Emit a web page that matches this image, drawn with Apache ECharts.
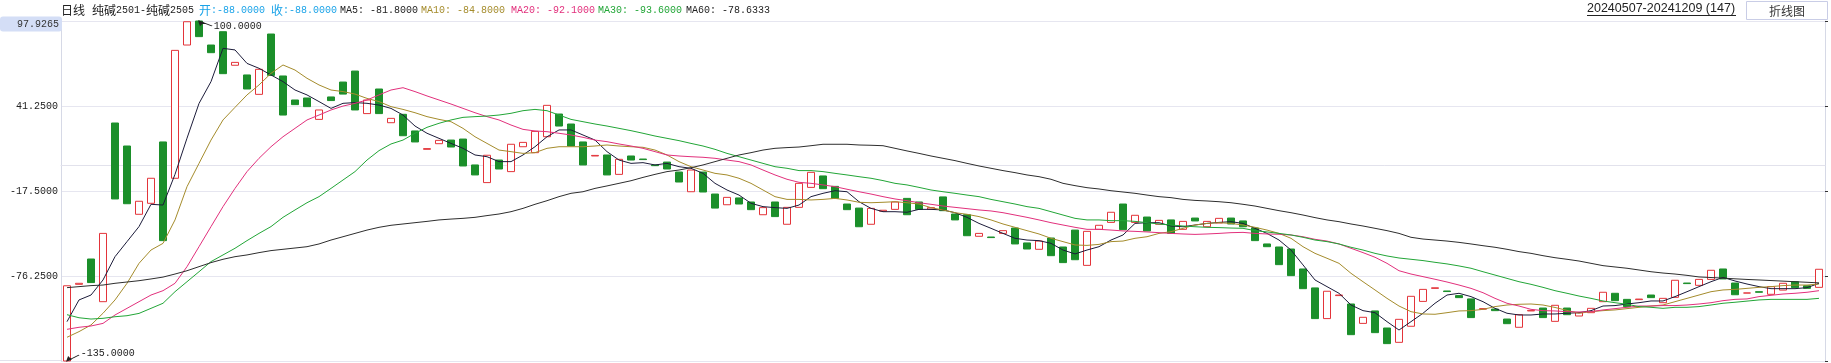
<!DOCTYPE html>
<html>
<head>
<meta charset="utf-8">
<script src="https://cdn.jsdelivr.net/npm/echarts@6/dist/echarts.min.js"></script>
<style>
html,body{margin:0;padding:0;background:#fff;}
#chart{width:1831px;height:363px;}
</style>
</head>
<body>
<div id="chart"></div>
<script>
// trading days (categories)
const days202405 = [7,8,9,10,13,14,15,16,17,20,21,22,23,24,27,28,29,30,31];
const days202406 = [3,4,5,6,7,11,12,13,14,17,18,19,20,21,24,25,26,27,28];
const days202407 = [1,2,3,4,5,8,9,10,11,12,15,16,17,18,19,22,23,24,25,26,29,30,31];
const days202408 = [1,2,5,6,7,8,9,12,13,14,15,16,19,20,21,22,23,26,27,28,29,30];
const days202409 = [2,3,4,5,6,9,10,11,12,13,18,19,20,23,24,25,26,27,30];
const days202410 = [8,9,10,11,14,15,16,17,18,21,22,23,24,25,28,29,30,31];
const days202411 = [1,4,5,6,7,8,11,12,13,14,15,18,19,20,21,22,25,26,27,28,29];
const days202412 = [2,3,4,5,6,9];

const openVals = [
-135,-82.0,-64.5,-94.0,29.5,13.6,-33.6,-26.0,16.4,-8.7,
83.4,100,83.4,92.6,69.4,62.7,49.3,91.0,62.0,45.4,
46.8,32.0,47.5,57.8,65.4,36.0,53.0,29.7,35.5,24.0,
11.3,15.2,17.7,18.4,0.5,-11.7,3.9,-4.1,13.1,9.0,
20.0,35.7,28.8,16.4,6.7,7.4,-6.0,6.7,4.6,0.5,
2.5,-4.4,-18.0,-4.4,-19.6,-27.0,-22.3,-25.1,-33.9,-25.1,
-40.5,-28.8,-15.0,-7.1,-14.3,-26.5,-29.3,-40.5,-31.5,-30.2,
-22.6,-25.1,-30.0,-21.6,-33.4,-33.9,-48.8,-49.3,-46.8,-43.1,
-53.4,-57.8,-50.0,-56.2,-44.5,-68.9,-44.0,-39.2,-26.5,-39.2,
-35.5,-40.5,-37.5,-44.0,-36.2,-42.2,-39.6,-36.2,-38.2,-43.1,
-54.1,-56.2,-57.6,-71.4,-84.5,-105.7,-89.8,-95.6,-109.0,-100.4,
-112.2,-122.1,-111.0,-93.8,-84.8,-86.6,-89.8,-92.1,-99.2,-99.1,
-106.0,-111.7,-100.4,-98.4,-107.6,-98.4,-103.9,-101.6,-94.0,-88.2,
-92.4,-92.6,-89.4,-94.7,-91.0,-81.1,-82.7,-78.6,-71.4,-81.1,
-88.0,-87.1,-88.9,-86.0,-80.2,-83.0,-84.1
];
const closeVals = [
-83.0,-81.3,-80.8,-46.8,-23.0,-26.3,-24.6,-8.7,-51.8,79.7,
99.5,89.2,78.1,63.6,71.4,53.0,66.6,62.4,35.0,42.2,
40.8,38.5,45.0,49.5,38.5,45.4,36.0,32.7,20.7,16.4,
11.8,17.5,12.9,-0.2,-6.4,7.2,-2.3,14.8,16.1,23.7,
41.7,27.4,13.6,0.5,7.1,-6.4,4.4,3.9,4.2,0.0,
-2.3,-11.3,-3.0,-18.2,-29.3,-21.9,-26.5,-30.4,-29.0,-35.2,
-28.8,-12.2,-4.6,-15.9,-22.6,-30.4,-42.2,-29.5,-30.8,-25.1,
-33.9,-30.2,-29.0,-31.1,-37.5,-48.4,-46.8,-49.7,-44.9,-54.1,
-57.6,-52.1,-62.2,-67.0,-65.0,-45.4,-41.2,-32.2,-44.2,-34.3,
-45.1,-37.8,-46.8,-38.5,-38.2,-38.5,-36.4,-40.3,-42.2,-51.8,
-56.0,-68.4,-76.0,-85.0,-105.7,-86.8,-89.4,-116.8,-104.8,-115.4,
-123.0,-106.2,-90.3,-85.5,-84.4,-87.0,-91.2,-105.0,-98.8,-100.2,
-109.2,-103.0,-100.0,-105.0,-96.5,-103.0,-101.6,-98.6,-87.5,-93.3,
-97.4,-92.2,-91.2,-91.7,-79.2,-81.5,-78.6,-72.3,-78.3,-89.2,
-88.0,-87.5,-83.6,-81.3,-84.3,-84.8,-71.6
];
const ma5 = [
-107.8,-92.8,-89.4,-79.0,-62.9,-52.5,-42.1,-26.7,-27.2,-6.0,
19.0,43.0,58.1,81.1,80.0,70.7,67.3,62.7,58.1,52.3,
48.9,44.3,39.6,43.1,43.6,43.1,41.9,39.6,35.0,27.4,
22.4,18.9,15.4,12.0,7.4,6.2,2.8,2.8,7.4,13.1,
20.0,24.7,24.7,21.2,17.7,9.7,3.9,1.6,2.1,0.5,
1.6,-0.7,-1.8,-5.3,-12.2,-16.8,-20.3,-26.0,-28.3,-29.0,
-29.5,-27.2,-21.4,-19.1,-17.3,-18.0,-24.9,-29.5,-31.8,-31.8,
-32.2,-30.2,-30.2,-30.6,-32.5,-35.7,-39.9,-43.3,-46.8,-50.2,
-51.4,-51.8,-53.7,-58.3,-61.0,-58.3,-56.0,-51.4,-47.9,-39.9,
-39.4,-39.4,-41.7,-42.2,-41.0,-39.9,-39.2,-38.7,-39.9,-43.3,
-46.8,-51.4,-58.3,-68.6,-79.0,-83.6,-88.2,-96.3,-100.2,-101.6,
-107.8,-113.6,-107.8,-102.0,-95.1,-89.4,-88.2,-90.5,-94.0,-98.6,
-102.0,-103.2,-103.2,-102.5,-102.5,-102.0,-101.6,-100.2,-97.0,-96.7,
-95.6,-94.7,-93.5,-93.5,-90.5,-87.1,-83.6,-80.2,-77.2,-79.7,
-81.8,-83.6,-85.0,-85.0,-85.0,-84.3,-81.3
];
const ma10 = [
-118.6,-114.7,-110.1,-102.0,-92.8,-81.3,-67.5,-58.3,-53.7,-37.5,
-14.5,1.6,17.7,31.6,40.3,48.9,55.8,63.8,69.6,66.1,
60.4,55.8,52.3,51.2,49.5,46.5,44.3,40.8,38.9,36.6,
33.9,32.0,30.4,25.8,20.0,15.4,10.8,9.7,8.5,9.0,
12.0,13.1,13.1,13.1,13.6,14.3,13.6,13.1,12.7,10.8,
7.4,2.8,-0.7,-3.0,-5.3,-6.4,-8.7,-12.2,-16.8,-21.4,
-23.3,-23.3,-23.7,-23.3,-22.6,-23.7,-25.3,-25.6,-25.3,-24.9,
-25.6,-26.5,-29.0,-30.6,-32.5,-33.6,-35.2,-37.5,-40.3,-42.6,
-44.9,-47.2,-50.2,-52.5,-54.8,-55.1,-54.4,-52.5,-52.1,-50.2,
-49.1,-46.8,-45.6,-43.3,-41.0,-39.9,-39.4,-39.9,-41.0,-42.6,
-44.5,-46.8,-50.2,-56.0,-60.6,-64.0,-67.5,-74.4,-80.2,-85.9,
-91.7,-97.0,-100.9,-102.5,-102.7,-101.6,-100.4,-100.2,-99.3,-97.4,
-96.3,-95.8,-95.6,-96.3,-98.0,-100.0,-102.0,-100.9,-100.2,-99.7,
-98.8,-97.9,-97.0,-96.3,-94.0,-91.7,-89.4,-87.1,-85.9,-85.5,
-84.8,-84.1,-83.6,-82.9,-82.5,-82.5,-81.8
];
const ma20 = [
-113.1,-111.7,-110.8,-109.0,-103.2,-98.6,-94.0,-89.4,-86.4,-81.3,
-69.8,-56.0,-42.1,-28.3,-15.7,-4.1,5.1,13.1,20.0,25.8,
31.6,35.0,38.5,41.2,43.1,45.4,48.9,52.3,53.9,51.2,
48.2,45.4,42.6,39.6,36.6,33.9,31.6,28.1,25.1,24.0,
23.5,22.4,21.2,19.6,17.7,16.6,15.0,13.6,12.0,9.7,
7.4,6.7,6.2,5.8,5.1,3.9,2.8,0.5,-3.0,-6.4,
-9.4,-11.5,-12.2,-13.3,-14.5,-16.3,-18.0,-19.6,-21.4,-23.0,
-24.2,-25.6,-26.7,-27.9,-28.8,-29.7,-30.6,-31.3,-32.5,-34.1,
-35.7,-37.5,-39.4,-41.0,-42.6,-44.0,-44.0,-44.5,-45.1,-45.4,
-45.8,-46.3,-46.8,-47.2,-47.5,-47.2,-46.8,-46.3,-46.1,-46.8,
-47.2,-47.4,-47.9,-49.1,-50.9,-52.1,-54.1,-57.1,-60.1,-63.3,
-67.5,-72.6,-74.9,-76.7,-78.5,-80.4,-82.5,-84.8,-87.8,-91.7,
-95.1,-97.0,-99.3,-100.2,-100.4,-100.9,-101.1,-100.9,-99.7,-98.8,
-97.9,-97.0,-97.0,-96.7,-96.7,-96.3,-95.6,-94.7,-93.3,-92.4,
-92.1,-90.5,-89.6,-88.7,-88.2,-87.5,-86.4
];
const ma30 = [
-103.0,-105.1,-106.0,-105.5,-104.4,-103.7,-102.1,-98.6,-95.1,-87.1,
-80.2,-73.3,-66.3,-61.7,-57.1,-51.8,-46.8,-42.1,-35.7,-30.6,
-25.6,-21.4,-15.7,-9.9,-4.1,3.9,10.4,15.0,17.7,22.4,
26.5,29.3,31.6,33.4,33.9,34.3,35.0,36.2,38.0,38.9,
38.0,35.0,32.0,30.4,28.8,27.4,25.8,24.2,22.4,20.5,
18.9,17.3,15.4,13.6,11.3,8.5,6.2,3.9,1.6,-0.7,
-1.8,-3.4,-3.4,-4.1,-5.3,-6.4,-7.6,-8.7,-10.3,-12.2,
-13.3,-15.0,-16.8,-18.0,-19.1,-20.3,-21.4,-23.3,-24.9,-26.5,
-28.3,-29.5,-31.8,-34.1,-36.4,-37.5,-37.5,-38.0,-38.0,-38.5,
-39.4,-40.3,-41.0,-41.7,-42.2,-42.6,-42.8,-43.1,-43.3,-44.9,
-45.8,-46.8,-47.9,-49.5,-51.4,-52.5,-54.1,-56.4,-58.3,-60.6,
-62.4,-63.8,-64.7,-65.6,-66.8,-67.9,-69.3,-70.9,-73.3,-75.6,
-77.9,-80.2,-82.0,-84.1,-86.4,-88.2,-90.1,-91.7,-93.5,-94.7,
-95.8,-97.4,-97.9,-98.6,-97.9,-97.9,-97.4,-96.3,-95.1,-94.4,
-93.6,-92.8,-92.4,-92.4,-92.4,-92.4,-91.7
];
const ma60 = [
-84.3,-83.6,-82.9,-82.5,-81.3,-80.4,-79.5,-78.3,-77.0,-74.9,
-72.6,-69.8,-67.0,-64.7,-62.9,-61.7,-60.1,-58.7,-57.8,-56.9,
-56.0,-54.1,-51.4,-49.1,-46.8,-44.5,-42.6,-41.2,-40.3,-39.4,
-38.5,-37.5,-36.9,-36.4,-35.7,-34.5,-33.4,-31.8,-29.5,-26.7,
-24.2,-21.4,-19.1,-18.0,-15.7,-14.0,-12.2,-10.4,-8.1,-6.0,
-4.1,-3.0,-1.4,0.5,2.8,5.1,7.4,9.0,10.8,12.0,
12.5,12.9,13.8,14.8,14.8,14.8,14.3,14.1,13.8,12.0,
10.2,8.5,6.7,5.1,3.5,1.6,-0.2,-1.8,-3.4,-4.8,
-6.4,-7.6,-9.4,-12.2,-13.8,-15.2,-16.1,-17.3,-18.2,-19.1,
-20.3,-21.4,-22.1,-23.3,-24.0,-24.4,-24.9,-25.6,-26.7,-27.9,
-29.5,-31.1,-32.5,-34.1,-35.9,-37.5,-38.7,-40.3,-41.7,-43.3,
-44.9,-46.8,-49.5,-50.7,-51.4,-52.1,-53.0,-54.1,-55.3,-56.4,
-57.8,-59.4,-60.6,-62.2,-63.6,-64.7,-65.9,-67.5,-69.1,-70.0,
-70.9,-72.1,-73.3,-74.2,-74.9,-75.8,-76.9,-77.3,-77.7,-78.2,
-78.6333,-79.0,-79.4,-79.8,-80.2,-80.6,-81.0
];
const yTicks = [-135, -76.25, -17.5, 41.25, 100];
const cursorValue = 97.9265;
const focusIndex = 140;

const months = [['202405',days202405],['202406',days202406],['202407',days202407],['202408',days202408],
  ['202409',days202409],['202410',days202410],['202411',days202411],['202412',days202412]];
const categories = [];
months.forEach(([ym, ds]) => ds.forEach(d => categories.push(ym + String(d).padStart(2,'0'))));

const candleData = openVals.map((o, i) => {
  const c = closeVals[i];
  return [o, c, Math.min(o, c), Math.max(o, c)];
});

const MONO = 'Liberation Mono';
const CJK = 'Noto Sans CJK SC';
const colors = {ma5:'#1c1c3a', ma10:'#a58c2c', ma20:'#e2307c', ma30:'#22a637', ma60:'#2e2e2e', blue:'#1aa3e8', text:'#222'};

const f4 = v => Number(v).toFixed(4);
const chart = echarts.init(document.getElementById('chart'));

function maSeries(name, data, color, w) {
  return {name, type:'line', data, symbol:'none', smooth:false,
    lineStyle:{color, width:w}, itemStyle:{color}, z:3, silent:true};
}

const headerY = 10;
function tok(x, text, cjk, color) {
  return {type:'text', x, y:headerY, silent:true,
    style:{text, fontFamily: cjk ? CJK : MONO, fontSize: cjk ? 12 : 10, fill: color || colors.text,
      align:'left', verticalAlign:'middle'}};
}
const fi = focusIndex;
const rangeText = categories[0] + '-' + categories[categories.length-1] + ' (' + categories.length + ')';

const option = {
  animation:false,
  backgroundColor:'#ffffff',
  grid:{left:61, right:6, top:21, height:340, containLabel:false},
  xAxis:{type:'category', data:categories, boundaryGap:true,
    axisLine:{show:true, lineStyle:{color:'#e2e2ec'}}, axisTick:{show:false}, axisLabel:{show:false}, splitLine:{show:false}},
  yAxis:[{
    type:'value', position:'left', min:yTicks[0], max:yTicks[yTicks.length-1], interval:yTicks[1]-yTicks[0],
    axisLine:{show:true, lineStyle:{color:'#d6d9e6'}}, axisTick:{show:false},
    axisLabel:{show:true, formatter:f4, fontFamily:MONO, fontSize:10, color:'#222', margin:3, showMinLabel:false, showMaxLabel:false},
    splitLine:{show:true, lineStyle:{color:'#e6e6f0', width:1}},
    axisPointer:{show:true, value:cursorValue, status:'show', triggerTooltip:false,
      lineStyle:{color:'rgba(0,0,0,0)', width:0},
      label:{show:true, formatter:p => f4(p.value), fontFamily:MONO, fontSize:10, color:'#333',
        backgroundColor:'#d4def6', padding:[3,3,2,17], margin:1, borderWidth:0, shadowBlur:0}}
  },{
    type:'value', position:'right', min:yTicks[0], max:yTicks[yTicks.length-1], interval:yTicks[1]-yTicks[0],
    axisLine:{show:true, lineStyle:{color:'#d6d9e6'}}, axisTick:{show:true, inside:false, length:3, lineStyle:{color:'#333'}},
    axisLabel:{show:false}, splitLine:{show:false}
  }],
  series:[
    {name:'K', type:'candlestick', data:candleData, barWidth:8, z:2,
      itemStyle:{color:'#ffffff', color0:'#1b8f2a', borderColor:'#e3343a', borderColor0:'#1b8f2a', borderColorDoji:'#e3343a', borderWidth:1},
      markPoint:{
        silent:true,
        data:[
          {type:'max', valueDim:'highest', symbol:'path://M0 0L4 1.4L1.4 4Z M0 0L13 5', symbolSize:[13,5], symbolOffset:[6.5,2.5],
            itemStyle:{color:'#222', borderColor:'#222', borderWidth:1},
            label:{show:true, position:'right', distance:1, offset:[0,3], formatter:p => f4(p.value), fontFamily:MONO, fontSize:10, color:'#222'}},
          {type:'min', valueDim:'lowest', symbol:'path://M0 6L4 4.6L1.4 2Z M0 6L12 0', symbolSize:[12,6], symbolOffset:[6,-3],
            itemStyle:{color:'#222', borderColor:'#222', borderWidth:1},
            label:{show:true, position:'right', distance:1, offset:[0,-5], formatter:p => f4(p.value), fontFamily:MONO, fontSize:10, color:'#222'}}
        ]
      }
    },
    maSeries('MA5', ma5, colors.ma5, 1),
    maSeries('MA10', ma10, colors.ma10, 1),
    maSeries('MA20', ma20, colors.ma20, 1),
    maSeries('MA30', ma30, colors.ma30, 1),
    maSeries('MA60', ma60, colors.ma60, 1)
  ],
  graphic:[
    tok(61, '日线', true),
    tok(92, '纯碱', true), tok(116, '2501-', false), tok(146, '纯碱', true), tok(170, '2505', false),
    tok(199, '开', true, colors.blue), tok(211, ':' + f4(openVals[fi]), false, colors.blue),
    tok(271, '收', true, colors.blue), tok(283, ':' + f4(closeVals[fi]), false, colors.blue),
    tok(340, 'MA5: ' + f4(ma5[fi]), false, colors.text),
    tok(421, 'MA10: ' + f4(ma10[fi]), false, colors.ma10),
    tok(511, 'MA20: ' + f4(ma20[fi]), false, colors.ma20),
    tok(598, 'MA30: ' + f4(ma30[fi]), false, colors.ma30),
    tok(686, 'MA60: ' + f4(ma60[fi]), false, colors.text),
    {type:'text', x:1587, y:9, silent:true,
      style:{text:rangeText, fontFamily:'Liberation Sans', fontSize:12.5, fill:'#222', verticalAlign:'middle'}},
    {type:'line', silent:true, shape:{x1:1587, y1:15.5, x2:1736, y2:15.5}, style:{stroke:'#222', lineWidth:1}},
    {type:'rect', silent:true, shape:{x:1746.5, y:1.5, width:81, height:18}, style:{fill:'#fff', stroke:'#c9cde6', lineWidth:1}},
    {type:'text', silent:true, x:1787, y:11, style:{text:'折线图', fontFamily:CJK, fontSize:12, fill:'#333', align:'center', verticalAlign:'middle'}},
    {type:'line', silent:true, shape:{x1:0, y1:360.5, x2:61, y2:360.5}, style:{stroke:'#e2e2ec', lineWidth:1}}
  ]
};
chart.setOption(option);
</script>
</body>
</html>
